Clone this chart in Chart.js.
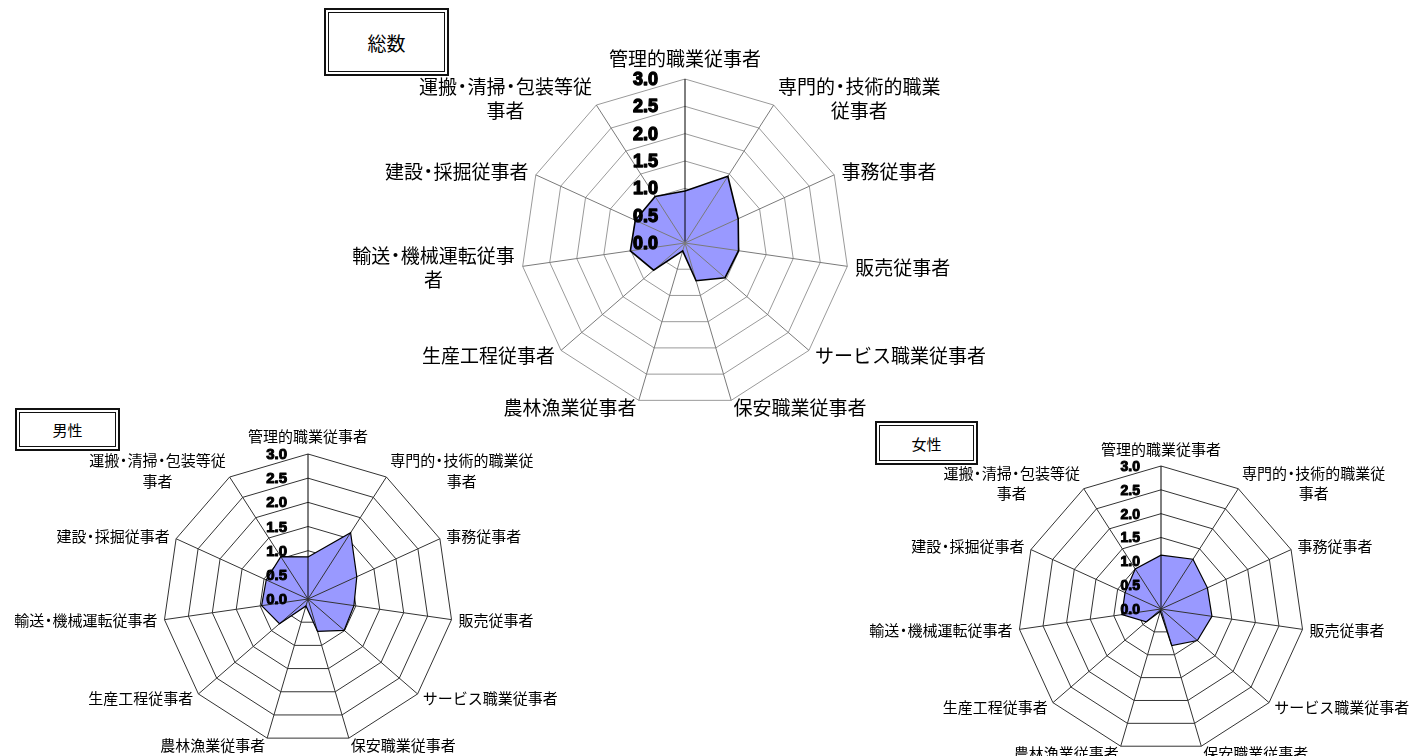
<!DOCTYPE html>
<html><head><meta charset="utf-8">
<script src="https://cdn.jsdelivr.net/npm/chart.js@4.4.1/dist/chart.umd.min.js"></script>
<style>
html,body{margin:0;padding:0;background:#fff;width:1425px;height:756px;overflow:hidden;}
canvas{position:absolute;left:0;top:0;}
.box{position:absolute;border:2px solid #111;box-sizing:border-box;background:#fff;z-index:5;}
.box .in{position:absolute;left:2px;top:2px;right:2px;bottom:2px;border:1px solid #111;display:flex;align-items:center;justify-content:center;font-family:"Noto Sans CJK JP";color:#000;}
</style></head><body>
<canvas id="cTotal" width="1425" height="756"></canvas>
<canvas id="cMale" width="1425" height="756"></canvas>
<canvas id="cFemale" width="1425" height="756"></canvas>
<div class="box" style="left:324px;top:8px;width:125px;height:68px;"><div class="in" style="font-size:19px;">総数</div></div>
<div class="box" style="left:15px;top:408px;width:105px;height:43px;"><div class="in" style="font-size:15px;">男性</div></div>
<div class="box" style="left:875px;top:421px;width:103px;height:44px;"><div class="in" style="font-size:15px;">女性</div></div>
<script>
const CATEGORIES = ['管理的職業従事者','専門的・技術的職業従事者','事務従事者','販売従事者','サービス職業従事者','保安職業従事者','農林漁業従事者','生産工程従事者','輸送・機械運転従事者','建設・採掘従事者','運搬・清掃・包装等従事者'];
const LABELS_TOTAL = [['管理的職業従事者'],['専門的・技術的職業','従事者'],['事務従事者'],['販売従事者'],['サービス職業従事者'],['保安職業従事者'],['農林漁業従事者'],['生産工程従事者'],['輸送・機械運転従事','者'],['建設・採掘従事者'],['運搬・清掃・包装等従','事者']];
const LABELS_SEX = [['管理的職業従事者'],['専門的・技術的職業従','事者'],['事務従事者'],['販売従事者'],['サービス職業従事者'],['保安職業従事者'],['農林漁業従事者'],['生産工程従事者'],['輸送・機械運転従事者'],['建設・採掘従事者'],['運搬・清掃・包装等従','事者']];
const TOTAL  = [0.95,1.45,1.07,0.99,0.97,0.72,0.15,0.76,1.01,1.00,1.01];
const MALE   = [0.87,1.63,1.11,0.96,0.99,0.70,0.15,0.78,0.97,0.95,1.04];
const FEMALE = [1.13,1.24,1.07,1.08,1.01,0.80,0.05,0.41,0.83,0.83,1.00];
const TICK_LABELS = ['0.0','0.5','1.0','1.5','2.0','2.5','3.0'];

function segs(t){ return t.split(/(・)/).filter(x=>x); }
function textW(ctx, t, fs){ return segs(t).reduce((a,s)=>a + (s==='・' ? fs*0.55 : ctx.measureText(s).width), 0); }
function drawT(ctx, t, x, y, fs){
  let cx = x; ctx.textAlign = 'left';
  segs(t).forEach(s=>{
    if (s==='・'){ const dw = ctx.measureText('・').width; ctx.fillText('・', cx + fs*0.275 - dw/2, y); cx += fs*0.55; }
    else { ctx.fillText(s, cx, y); cx += ctx.measureText(s).width; }
  });
}

const overlay = {
  id:'overlay',
  beforeDatasetDraw(chart){
    const s = chart.scales.r, g = chart.options.geo, ctx = chart.ctx;
    const data = chart.data.datasets[0].data;
    ctx.save();
    ctx.lineWidth = 1;
    data.forEach((v,i)=>{
      const p = s.getPointPositionForValue(i, v);
      ctx.strokeStyle = i===0 ? '#000' : g.spoke;
      ctx.beginPath(); ctx.moveTo(s.xCenter, s.yCenter); ctx.lineTo(p.x, p.y); ctx.stroke();
    });
    ctx.restore();
  },
  afterDraw(chart){
    const s = chart.scales.r, g = chart.options.geo, ctx = chart.ctx;
    ctx.save();
    ctx.font = g.labelSize + 'px "Noto Sans CJK JP"'; ctx.fillStyle = '#000'; ctx.textBaseline = 'middle';
    chart.data.labels.forEach((lines,i)=>{
      const arr = Array.isArray(lines) ? lines : [lines];
      const p = s.getPointPosition(i, s.drawingArea + g.gap);
      const lh = g.lineH;
      const ws = arr.map(t=>textW(ctx, t, g.labelSize));
      const w = Math.max(...ws);
      const h = arr.length * lh;
      let bx, top;
      if (Math.abs(p.x - s.xCenter) < 2) { bx = p.x; top = p.y - h; }
      else if (p.x > s.xCenter) { bx = p.x + w/2; top = p.y - h/2; }
      else { bx = p.x - w/2; top = p.y - h/2; }
      arr.forEach((t,k)=>drawT(ctx, t, bx - ws[k]/2, top + lh*(k+0.5), g.labelSize));
    });
    ctx.font = g.tickFont; ctx.textAlign = 'right'; ctx.textBaseline = 'middle';
    ctx.lineWidth = g.tickStroke; ctx.strokeStyle = '#000'; ctx.lineJoin = 'round';
    s.ticks.forEach(t=>{
      const y = s.yCenter - s.getDistanceFromCenterForValue(t.value);
      ctx.strokeText(t.label, s.xCenter - g.tickDx, y + 1);
      ctx.fillText(t.label, s.xCenter - g.tickDx, y + 1);
    });
    ctx.restore();
  }
};

function makeRadar(id, labels, values, geo){
  return new Chart(document.getElementById(id), {
    type:'radar',
    data:{labels:labels, datasets:[{label:id, data:values, backgroundColor:'#9999ff', borderColor:'#000', borderWidth:geo.lw, pointRadius:0, pointHoverRadius:0, fill:true, tension:0}]},
    options:{
      geo:geo,
      responsive:false, animation:false, devicePixelRatio:1, events:[],
      layout:{padding:0},
      plugins:{legend:{display:false}, tooltip:{enabled:false}},
      scales:{r:{
        min:0, max:3,
        ticks:{stepSize:0.5, display:false, callback:(v,i)=>TICK_LABELS[i]},
        grid:{color:geo.grid, lineWidth:1, circular:false},
        angleLines:{color:(c)=>c.index===0 ? '#000' : geo.spoke, lineWidth:1},
        pointLabels:{display:false},
        afterFit:(s)=>{ s.xCenter = geo.cx; s.yCenter = geo.cy; s.drawingArea = geo.R; }
      }}
    },
    plugins:[overlay]
  });
}

makeRadar('cTotal', LABELS_TOTAL, TOTAL, {cx:685, cy:243, R:164, gap:8, lineH:24, lw:1.6,
  grid:'#9a9a9a', spoke:'#7a7a7a', labelSize:19, tickFont:'bold 18px "Liberation Sans"', tickStroke:1.3, tickDx:27});
makeRadar('cMale', LABELS_SEX, MALE, {cx:308, cy:599, R:145, gap:7, lineH:21, lw:1.2,
  grid:'#333', spoke:'#333', labelSize:15, tickFont:'bold 15px "Liberation Sans"', tickStroke:1.0, tickDx:21});
makeRadar('cFemale', LABELS_SEX, FEMALE, {cx:1161, cy:609, R:143, gap:7, lineH:20, lw:1.2,
  grid:'#333', spoke:'#333', labelSize:15, tickFont:'bold 14px "Liberation Sans"', tickStroke:1.0, tickDx:21});
</script>
</body></html>
